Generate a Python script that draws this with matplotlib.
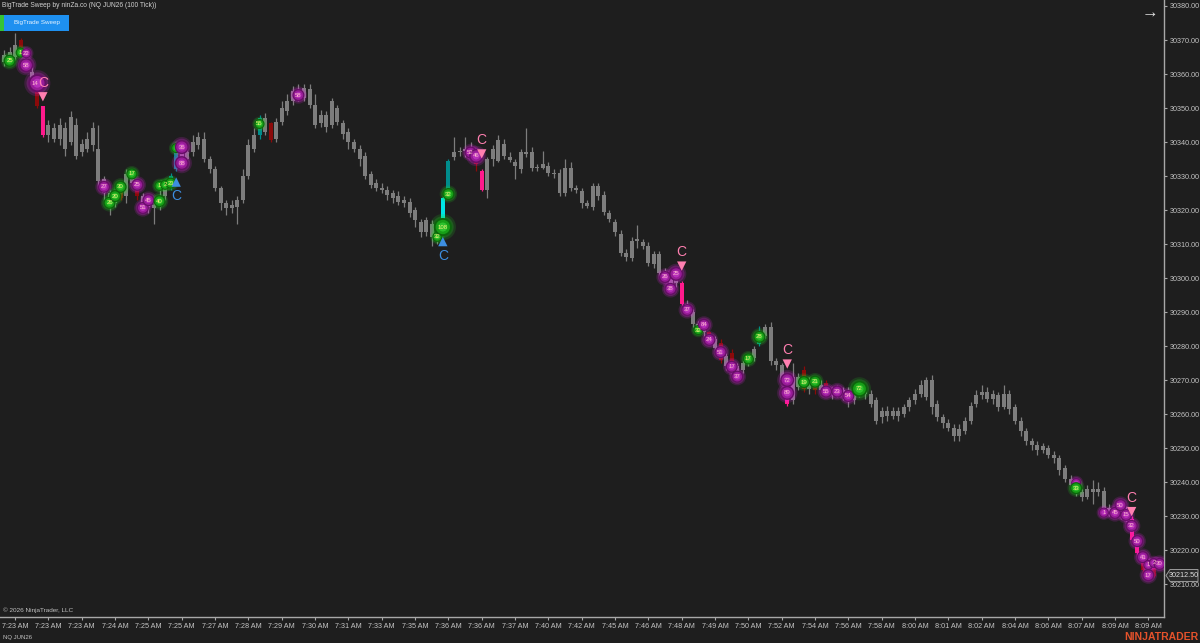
import matplotlib
matplotlib.use('Agg')
import matplotlib.pyplot as plt
from matplotlib.patches import Rectangle, Polygon

# ---------------- data ----------------
opens = [30363.5,30364.5,30365,30370,30366,30360.5,30355,30350.5,30342,30344,
         30341,30344,30340,30345,30337,30338,30339,30338,30329,30325,
         30322,30327,30324,30330,30328,30324,30321,30320.5,30321,30324,
         30327,30332,30337,30335,30337,30339,30341,30335,30332,30326.5,
         30322,30320.5,30321,30323,30330,30338,30342,30347,30345.5,30341,
         30346,30349,30352,30355,30353,30355.5,30351,30345.5,30348,30345,
         30350,30345.5,30343,30340,30338,30336,30330.5,30328,30326.5,30326,
         30325,30324,30323,30322.5,30320,30316.5,30313.5,30316,30312,30317,
         30325,30335.5,30337,30337.5,30338,30335,30331.5,30326,30335,30334.5,
         30339.5,30335.5,30334,30332,30336.5,30337,30332.5,30332.3,30333,30331,
         30331,30325,30332.5,30326.5,30325.5,30322,30321,30327,30324.5,30319,
         30316.5,30313,30307.5,30306,30311.3,30310.5,30309.5,30304,30307,30302,
         30300,30298.5,30298.5,30292.5,30290,30286.5,30286,30284,30282,30281,
         30277,30278,30274,30273,30275,30276.5,30280.5,30283,30285.5,30275.5,
         30274.5,30270,30264,30271,30273,30267.5,30270,30267,30269,30267,
         30266,30267,30266,30264,30266,30267,30266,30264,30259,30261,
         30259.5,30261,30260,30262,30264,30266,30265,30270,30263,30259,
         30257.5,30256,30253.5,30255,30258,30263,30265.5,30266.5,30264.5,30265.5,
         30262,30266,30262,30258,30255,30252,30251,30249.5,30250,30248,
         30247,30244,30241,30239,30237,30235.5,30238,30237,30237.5,30232.5,
         30231,30230.5,30232,30229,30223,30219,30214,30215]
highs = [30367,30368,30372,30370.5,30367,30362,30356,30350.5,30346.5,30345.5,
         30347,30346,30349,30347,30341,30343,30346,30345,30330,30326,
         30327,30328,30332,30332,30329,30325,30324,30323,30326,30328,
         30331,30338,30339,30339,30342,30343,30343,30336,30333,30327,
         30323,30323,30324,30332,30341,30344,30348,30348.5,30346,30347,
         30352,30354,30356.5,30357,30357,30357,30354,30349.5,30349,30353,
         30351,30346.5,30344,30341,30339,30337,30331.5,30329,30328,30327,
         30326,30325.5,30324,30323.5,30321,30317.5,30318,30317,30314,30324,
         30335,30341.5,30338.5,30341.5,30340,30336,30332,30335.5,30339,30342,
         30341,30337,30335,30338,30344,30338.5,30333.5,30337.5,30334,30332,
         30332,30335,30334,30327.5,30326.5,30323,30328,30328,30325.5,30320,
         30317.5,30314,30308.5,30312,30315.5,30311.5,30310.5,30308,30308,30303,
         30301.5,30301.5,30299,30293.5,30291,30287.5,30287,30284.5,30283,30282,
         30278,30279,30275,30276,30277.5,30280,30286,30286.5,30287,30276.5,
         30275,30271,30275,30272,30274,30271,30271,30270,30270,30268,
         30268.5,30268,30268,30267,30269,30268,30267,30265,30262,30262.5,
         30262,30262,30263,30265,30267.5,30270,30271,30271.5,30264,30260,
         30258.5,30257,30257,30259,30263.5,30267,30268.5,30268,30267,30266.5,
         30268.5,30267,30263,30259,30256,30253,30252,30251.5,30251,30249,
         30248,30245,30242,30240,30238,30239,30240.5,30240,30238.5,30233.5,
         30232.5,30234,30233,30230,30223.5,30219.5,30216,30216]
lows = [30362.5,30363,30364,30367.5,30361,30357.5,30350,30341.5,30340,30340,
        30339,30336,30339,30335,30336,30337,30337.5,30327,30323,30318.5,
        30321,30323,30322,30327,30323,30319.5,30319,30316,30320,30323,
        30326,30331.5,30332,30334,30336,30338,30334,30331,30325.5,30320,
        30318.5,30319,30316,30322,30329,30337,30341,30342,30340,30340,
        30345,30348,30351,30352,30352,30350,30344,30344.5,30343,30344,
        30345,30341,30338,30337,30333,30329,30326.5,30325.5,30325,30323,
        30322,30321.5,30321,30318,30315,30312,30312.5,30309.5,30310,30316.5,
        30324.5,30334.8,30336,30335.5,30336,30331.5,30325.5,30323.5,30333,30334,
        30335,30334,30329,30331,30335.5,30331.5,30331.5,30332,30330,30329.5,
        30324,30324,30325.5,30325,30320.5,30320.5,30320,30323,30318.5,30316.5,
        30312.5,30306.5,30305,30305,30308.8,30308.5,30303.5,30303,30300.5,30299,
        30297,30297.5,30292,30289,30285.5,30284,30283,30280.5,30278.5,30275,
        30273,30273.5,30270.5,30272,30274,30275.5,30280,30282.5,30274.5,30273,
        30269,30262.5,30263,30267,30266.5,30266,30266,30266,30265.5,30264.5,
        30265,30264,30262,30263,30265,30264.5,30262,30257,30257.5,30258,
        30258.5,30258,30259,30261,30263,30265,30264,30260,30258,30256,
        30255,30252,30252,30254,30257,30262,30264.5,30263.5,30263,30261,
        30261.5,30260,30257,30253.5,30251,30249.5,30248,30248.5,30247,30245.5,
        30242,30240,30238,30236,30234.5,30235,30233.5,30236,30231,30230,
        30229.5,30229,30228.5,30222.5,30218,30213,30211.5,30212]
closes = [30365.5,30366.5,30368.5,30368,30362,30358.5,30350.5,30342,30345,30341,
          30345,30338,30347.5,30336,30339.5,30341,30344,30328.5,30325,30322,
          30325,30323.5,30330.5,30328,30324,30321,30322.5,30321.5,30324,30326.5,
          30330,30337.5,30334,30337,30340,30341.5,30335,30332,30326.5,30322,
          30320.5,30321.5,30323,30330,30339,30342,30347,30343,30340.5,30346,
          30350,30352,30355,30353,30356,30351,30345,30348,30344.5,30352,
          30346,30342.5,30340,30338,30335,30330,30327.5,30326.5,30326,30324.5,
          30323.5,30322.5,30322,30319,30317,30313.5,30317,30312,30313,30323.5,
          30334.5,30337,30337.3,30338,30337,30333.5,30326,30335,30338,30340.5,
          30336,30334.8,30333,30337,30337,30332.5,30332.3,30333.5,30331,30330.5,
          30325,30332.5,30326.5,30326,30322,30321.3,30327,30324,30319.5,30317.5,
          30313.5,30307.5,30306.3,30311,30311,30309.5,30304.5,30307,30301.5,30300,
          30298,30300,30292.5,30290,30286.5,30285,30284,30281.5,30279.5,30276,
          30274,30275,30272,30275,30276.5,30279,30283,30285.5,30275.5,30274.5,
          30270,30262.8,30271,30268,30267.5,30270,30267,30268.5,30267,30266,
          30267.5,30266,30264,30266,30267.5,30266,30263,30258,30261,30259.5,
          30261,30259.5,30262,30264,30266,30268.5,30270,30262,30259,30257.5,
          30256,30253.5,30255.5,30258,30262.5,30265.5,30266.5,30264.5,30266,30262,
          30266,30261.5,30258,30255,30252,30251,30249.5,30250.5,30248,30247,
          30243.5,30241,30239,30237,30235.5,30238,30237,30238,30232.5,30231,
          30230.5,30232,30229.5,30223,30219,30214,30213,30212.5]

special_bars = {3: 'darkred', 6: 'darkred', 7: 'pink', 21: 'darkred', 24: 'darkred',
                30: 'teal', 31: 'teal', 46: 'teal', 48: 'darkred',
                79: 'cyan', 80: 'teal', 85: 'darkred', 86: 'pink', 122: 'pink',
                127: 'darkred', 129: 'darkred', 131: 'darkred',
                136: 'teal', 141: 'pink', 144: 'darkred', 146: 'darkred', 148: 'darkred',
                203: 'pink', 204: 'pink', 205: 'darkred', 207: 'darkred'}

tick_labels = ['7:23 AM','7:23 AM','7:23 AM','7:24 AM','7:25 AM','7:25 AM','7:27 AM','7:28 AM',
               '7:29 AM','7:30 AM','7:31 AM','7:33 AM','7:35 AM','7:36 AM','7:36 AM','7:37 AM',
               '7:40 AM','7:42 AM','7:45 AM','7:46 AM','7:48 AM','7:49 AM','7:50 AM','7:52 AM',
               '7:54 AM','7:56 AM','7:58 AM','8:00 AM','8:01 AM','8:02 AM','8:04 AM','8:06 AM',
               '8:07 AM','8:09 AM','8:09 AM']
tick_bars = list(range(2, 2 + 6 * len(tick_labels), 6))

bub_bar = [1,3,4,4,6,18,19,20,21,23,24,25,26,28,28,29,30,31,32,32,46,53,78,79,80,84,85,
           119,121,120,123,125,126,127,129,131,132,134,136,141,141,144,146,148,150,152,154,
           193,193,198,200,201,202,203,204,205,206,207,208,206]
bub_price = [30363.9,30366.3,30366.1,30362.6,30357.3,30326.8,30322.1,30324.1,30326.8,30330.6,
             30327.4,30320.6,30322.9,30322.6,30327.1,30327.4,30327.9,30338.2,30338.5,30333.8,
             30345.3,30353.8,30312.1,30315.0,30324.7,30336.9,30335.9,
             30300.3,30301.2,30296.8,30290.6,30284.7,30286.2,30281.8,30278.2,30273.9,30271.0,
             30276.2,30282.7,30270.0,30266.2,30269.4,30269.5,30266.6,30266.6,30265.3,30267.4,
             30239.7,30238.2,30231.0,30230.9,30233.2,30230.3,30227.1,30222.6,30217.9,30215.6,
             30216.2,30215.9,30212.6]
bub_label = ['25','1','22','58','14','27','26','20','30','17','25','51','45','40','1','2','21','','36','88',
             '55','58','32','108','32','52','46',
             '26','25','38','37','32','84','24','51','17','37','17','28','72','89','19','21','55','23','54','72',
             '','33','1','45','50','15','32','50','41','1','2','30','17']
bub_side = ['b','b','s','s','s','s','b','b','b','b','s','s','s','b','b','b','b','b','s','s',
            'b','s','b','b','b','s','s',
            's','s','s','s','b','s','s','s','s','s','b','b','s','s','b','b','s','s','s','b',
            's','b','s','s','s','s','s','s','s','s','s','s','s']
bub_r = [6,5,5,7,9,6,6,6,6,5.5,6,6,6,6,5,5,5.5,5,7,7,
         5,6,5,9,6,6,7,
         6,7,6,6,5,6,6,6,6,6,5.5,6,7,7,6,6,6,6,6,8,
         5,6,5,6,6,6,6,6,6,5,5,6,6]

tri_bar = [7, 31, 79, 86, 122, 141, 203]
tri_price = [30353.3, 30328.2, 30310.7, 30336.5, 30303.5, 30274.7, 30231.3]
tri_dir = ['down', 'up', 'up', 'down', 'down', 'down', 'down']

last_price = 30212.50
y_ticks = list(range(30210, 30381, 10))

# ---------------- style ----------------
BG = '#1e1e1e'
plt.rcParams['font.family'] = ['Liberation Sans', 'DejaVu Sans']
COLORS = {'darkred': '#8b0a0a', 'pink': '#ff1a8c', 'teal': '#008c8c', 'cyan': '#00e6e6'}
CANDLE = '#7d7d7d'

W, H = 1200, 643
fig = plt.figure(figsize=(W / 100, H / 100), dpi=100)
fig.patch.set_facecolor(BG)

AX_BOTTOM_PX = 617
AX_RIGHT_PX = 1164
ax = fig.add_axes([0, (H - AX_BOTTOM_PX) / H, AX_RIGHT_PX / W, AX_BOTTOM_PX / H])
ax.set_facecolor(BG)
X0, DX = 4.0, 5.555
ax.set_xlim(-X0 / DX, (AX_RIGHT_PX - X0) / DX)
PPX = 3.4
ax.set_ylim(30380 - (AX_BOTTOM_PX - 6) / PPX, 30380 + 6 / PPX)

for s in ['top', 'left']:
    ax.spines[s].set_visible(False)
for s in ['bottom', 'right']:
    ax.spines[s].set_color('#a8a8a8')
    ax.spines[s].set_linewidth(1.0)

ax.yaxis.tick_right()
ax.set_yticks(y_ticks)
ax.set_yticklabels([f'{v:.2f}' for v in y_ticks])
ax.set_xticks(tick_bars)
ax.set_xticklabels(tick_labels)
ax.tick_params(axis='both', colors='#a8a8a8', labelcolor='#c4c4c4', labelsize=5.2,
               length=2.5, width=0.8, pad=1.5)

# candles
bw = 0.72
for i, (o, h, l, c) in enumerate(zip(opens, highs, lows, closes)):
    col = COLORS[special_bars[i]] if i in special_bars else CANDLE
    ax.plot([i, i], [l, h], color=col, lw=0.9, zorder=2, solid_capstyle='butt')
    lo, hi = min(o, c), max(o, c)
    if hi - lo < 0.4:
        hi = lo + 0.4
    ax.add_patch(Rectangle((i - bw / 2, lo), bw, hi - lo, facecolor=col, edgecolor='none', zorder=3))

# bubbles
def pts(rpx):
    return (2 * rpx * 0.72) ** 2

for b, p, lab, sd, r in zip(bub_bar, bub_price, bub_label, bub_side, bub_r):
    if sd == 'b':
        halo, dark, mid, light, tc = '#22d822', '#0b650b', '#179e17', '#33cc33', '#f2f27a'
    else:
        halo, dark, mid, light, tc = '#e826e8', '#660e66', '#971c97', '#c036c4', '#ffb8cc'
    ax.scatter([b], [p], s=pts(r * 1.45), color=halo, alpha=0.16, edgecolors='none', zorder=5)
    ax.scatter([b], [p], s=pts(r * 1.2), color=halo, alpha=0.22, edgecolors='none', zorder=5)
    ax.scatter([b], [p], s=pts(r), color=dark, edgecolors='none', zorder=6)
    ax.scatter([b], [p], s=pts(r * 0.8), color=mid, edgecolors='none', zorder=6)
    ax.scatter([b], [p], s=pts(r * 0.5), color=light, alpha=0.8, edgecolors='none', zorder=6)
    if lab:
        dxp = -2 if b == 6 else 0
        ax.annotate(lab, (b, p), xytext=(dxp, 0), textcoords='offset points', color=tc,
                    fontsize=4.3, ha='center', va='center', zorder=7)

# triangles + C labels
for b, p, d in zip(tri_bar, tri_price, tri_dir):
    if d == 'down':
        ax.scatter([b], [p], marker='v', s=45, color='#ff7fb0', edgecolors='none', zorder=8)
        ax.annotate('C', (b, p), xytext=(0, 10), textcoords='offset points', color='#ff7fb0',
                    fontsize=10, ha='center', va='center', zorder=8)
    else:
        ax.scatter([b], [p], marker='^', s=45, color='#3d8ee0', edgecolors='none', zorder=8)
        ax.annotate('C', (b, p), xytext=(0, -10), textcoords='offset points', color='#3d8ee0',
                    fontsize=10, ha='center', va='center', zorder=8)

# ---------------- overlay (pixel coordinates) ----------------
ov = fig.add_axes([0, 0, 1, 1], zorder=10)
ov.set_xlim(0, W)
ov.set_ylim(H, 0)
ov.axis('off')
ov.patch.set_alpha(0)

ov.text(2, 5.5, 'BigTrade Sweep by ninZa.co (NQ JUN26 (100 Tick))', color='#d2d2d2',
        fontsize=4.8, ha='left', va='center')
ov.add_patch(Rectangle((0, 15), 4, 15.5, facecolor='#35c435', edgecolor='none'))
ov.add_patch(Rectangle((4, 15), 65, 15.5, facecolor='#1e90f0', edgecolor='none'))
ov.text(36.5, 22.8, 'BigTrade Sweep', color='#e8f4ff', fontsize=4.5, ha='center', va='center')
ov.text(1150, 13, '\u2192', color='#e0e0e0', fontsize=12, ha='center', va='center')
ov.text(3, 610, '\u00a9 2026 NinjaTrader, LLC', color='#c0c0c0', fontsize=4.6, ha='left', va='center')
ov.text(3, 637, 'NQ JUN26', color='#c0c0c0', fontsize=4.3, ha='left', va='center')
ov.text(1198, 637, 'NINJATRADER', color='#e5522b', fontsize=7.5, fontweight='bold',
        ha='right', va='center')

# last price tag
yp = 6 + (30380 - last_price) * PPX
ov.add_patch(Polygon([(1166, yp), (1170, yp - 6), (1198, yp - 6), (1198, yp + 6), (1170, yp + 6)],
                     closed=True, facecolor='#2b2b2b', edgecolor='#9a9a9a', lw=0.7))
ov.text(1184, yp, f'{last_price:.2f}', color='#e0e0e0', fontsize=5.2, ha='center', va='center')

fig.savefig('out.png', dpi=100, facecolor=BG)
